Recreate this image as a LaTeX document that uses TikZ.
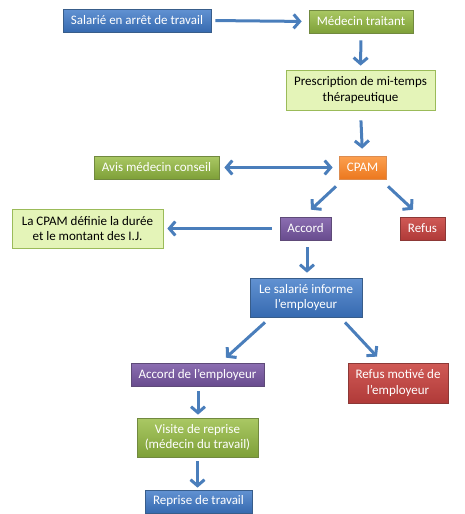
\documentclass[tikz,border=0pt]{standalone}
\usepackage{fontspec}
\setmainfont{Carlito}
\usetikzlibrary{arrows.meta,shadows}
\definecolor{arrowblue}{RGB}{74,126,187}
\definecolor{blueTop}{RGB}{98,146,210}
\definecolor{blueBot}{RGB}{54,106,176}
\definecolor{blueLine}{RGB}{56,93,138}
\definecolor{greenTop}{RGB}{170,200,100}
\definecolor{greenBot}{RGB}{126,160,56}
\definecolor{greenLine}{RGB}{113,137,63}
\definecolor{lgreenFill}{RGB}{228,244,184}
\definecolor{lgreenLine}{RGB}{155,187,89}
\definecolor{orangeTop}{RGB}{252,160,80}
\definecolor{orangeBot}{RGB}{236,120,30}
\definecolor{orangeLine}{RGB}{220,140,80}
\definecolor{purpleTop}{RGB}{140,110,178}
\definecolor{purpleBot}{RGB}{104,76,142}
\definecolor{purpleLine}{RGB}{94,74,120}
\definecolor{redTop}{RGB}{208,90,86}
\definecolor{redBot}{RGB}{176,58,56}
\definecolor{redLine}{RGB}{140,56,54}
\tikzset{
  box/.style={draw, line width=0.7pt, inner sep=1pt, align=center,
    font=\fontsize{13}{15.5}\selectfont,
    drop shadow={shadow xshift=1pt, shadow yshift=-1.2pt, opacity=0.35}},
  bluebox/.style={box, top color=blueTop, bottom color=blueBot, draw=blueLine, text=white},
  greenbox/.style={box, top color=greenTop, bottom color=greenBot, draw=greenLine, text=white},
  lightbox/.style={box, fill=lgreenFill, draw=lgreenLine, text=black, drop shadow={opacity=0}},
  orangebox/.style={box, top color=orangeTop, bottom color=orangeBot, draw=orangeLine, text=white},
  purplebox/.style={box, top color=purpleTop, bottom color=purpleBot, draw=purpleLine, text=white},
  redbox/.style={box, top color=redTop, bottom color=redBot, draw=redLine, text=white},
  flow/.style={draw=arrowblue, line width=3pt,
    -{Straight Barb[length=6pt,width=14pt]}},
  bflow/.style={draw=arrowblue, line width=3pt,
    {Straight Barb[length=6pt,width=14pt]}-{Straight Barb[length=6pt,width=14pt]}}
}
\begin{document}
\begin{tikzpicture}[x=1pt,y=-1pt]
\useasboundingbox (0,0) rectangle (464,514);
\node[bluebox, minimum width=148pt, minimum height=23pt] (n1) at (137,20.5) {Salarié en arrêt de travail};
\node[greenbox, minimum width=104pt, minimum height=23pt] (n2) at (361,21.5) {Médecin traitant};
\node[lightbox, minimum width=149pt, minimum height=40pt] (n3) at (360.5,90) {Prescription de mi-temps\\thérapeutique};
\node[greenbox, minimum width=125pt, minimum height=23pt] (n4) at (156.5,167.5) {Avis médecin conseil};
\node[orangebox, minimum width=47pt, minimum height=23pt] (n5) at (362.5,167.5) {CPAM};
\node[purplebox, minimum width=51pt, minimum height=23pt] (n6) at (305.5,228.5) {Accord};
\node[redbox, minimum width=45pt, minimum height=23pt] (n7) at (422.5,228.5) {Refus};
\node[lightbox, minimum width=151pt, minimum height=39pt] (n8) at (87.5,228.5) {La CPAM définie la durée\\ et le montant des I.J.};
\node[bluebox, minimum width=112pt, minimum height=39pt] (n9) at (306,297.5) {Le salarié informe\\ l’employeur};
\node[purplebox, minimum width=133pt, minimum height=23pt] (n10) at (197.5,374.5) {Accord de l’employeur};
\node[redbox, minimum width=100pt, minimum height=40pt] (n11) at (398,383) {Refus motivé de\\ l’employeur};
\node[greenbox, minimum width=121pt, minimum height=39pt] (n12) at (197.5,437.5) {Visite de reprise\\(médecin du travail)};
\node[bluebox, minimum width=107pt, minimum height=23pt] (n13) at (198.5,501.5) {Reprise de travail};

\draw[flow, shorten <=4pt, shorten >=7pt] (n1.east) -- (n2.west);
\draw[flow, shorten <=7pt, shorten >=4pt] (n2.south) -- (n3.north);
\draw[flow, shorten <=10pt, shorten >=7pt] (n3.south) -- (n5.north);
\draw[bflow, shorten <=5pt, shorten >=6pt] (n4.east) -- (n5.west);
\draw[flow] ([xshift=-26.5pt,yshift=-7pt]n5.south) -- ([xshift=5.5pt,yshift=7pt]n6.north);
\draw[flow] ([xshift=25.5pt,yshift=-7pt]n5.south) -- ([xshift=-9.5pt,yshift=7pt]n7.north);
\draw[flow, shorten <=8pt, shorten >=4pt] (n6.west) -- (n8.east |- n6.west);
\draw[flow, shorten <=7pt, shorten >=5pt] ([xshift=1.5pt]n6.south) -- ([xshift=1pt]n9.north);
\draw[flow] ([xshift=-41pt,yshift=-5pt]n9.south) -- ([xshift=28.5pt,yshift=5pt]n10.north);
\draw[flow] ([xshift=39pt,yshift=-5pt]n9.south) -- ([xshift=-21pt,yshift=6pt]n11.north);
\draw[flow, shorten <=5pt, shorten >=3pt] ([xshift=0.5pt]n10.south) -- ([xshift=0.5pt]n12.north);
\draw[flow, shorten <=4pt, shorten >=2pt] (n12.south) -- ([xshift=-1pt]n13.north);
\end{tikzpicture}
\end{document}
